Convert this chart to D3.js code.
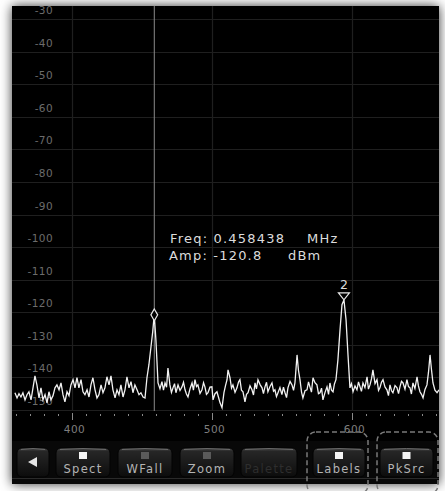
<!DOCTYPE html>
<html>
<head>
<meta charset="utf-8">
<script src="https://cdn.jsdelivr.net/npm/d3@7"></script>
<style>
  html, body { margin: 0; padding: 0; background: #ffffff; }
  svg { display: block; }
</style>
</head>
<body>
<svg id="chart" width="445" height="491"></svg>
<script>
// Spectrum trace: frequency bins (kHz) and amplitude (dBm)
const freqKHz = [
  358.9, 360.4, 361.8, 363.2, 364.6, 366.1, 367.5, 368.9, 370.4, 371.8,
  373.2, 374.6, 376.1, 377.5, 378.9, 380.4, 381.8, 383.2, 384.6, 386.1,
  387.5, 388.9, 390.4, 391.8, 393.2, 394.6, 396.1, 397.5, 398.9, 400.4,
  401.8, 403.2, 404.6, 406.1, 407.5, 408.9, 410.4, 411.8, 413.2, 414.6,
  416.1, 417.5, 418.9, 420.4, 421.8, 423.2, 424.6, 426.1, 427.5, 428.9,
  430.4, 431.8, 433.2, 434.6, 436.1, 437.5, 438.9, 440.4, 441.8, 443.2,
  444.6, 446.1, 447.5, 448.9, 450.4, 451.8, 453.2, 454.6, 456.1, 457.3,
  458.4, 459.6, 461.1, 462.5, 463.9, 465.0, 466.1, 467.2, 468.2, 469.6,
  470.7, 471.8, 472.9, 473.9, 475.4, 476.8, 478.2, 479.3, 480.4, 481.4,
  482.5, 484.0, 485.4, 486.4, 487.5, 488.6, 489.6, 491.1, 492.5, 493.6,
  494.6, 495.7, 496.8, 498.2, 499.6, 500.4, 501.8, 503.2, 504.3, 505.4,
  506.8, 508.2, 509.3, 510.4, 511.1, 512.5, 513.6, 514.6, 516.1, 517.5,
  518.6, 519.6, 520.7, 521.8, 523.2, 524.3, 525.4, 526.8, 528.2, 529.3,
  530.4, 531.4, 532.5, 534.0, 535.4, 536.4, 537.5, 538.6, 539.6, 541.1,
  542.5, 543.6, 544.6, 545.7, 546.8, 548.2, 549.6, 550.7, 551.8, 552.9,
  553.9, 555.4, 556.8, 557.9, 558.9, 560.4, 561.4, 562.5, 563.6, 564.6,
  566.1, 567.5, 568.6, 569.6, 570.7, 571.8, 573.2, 574.6, 575.7, 576.8,
  577.9, 578.9, 580.4, 581.8, 582.9, 583.9, 585.0, 586.1, 587.1, 588.2,
  589.6, 591.1, 592.5, 593.9, 595.4, 596.8, 598.2, 599.3, 600.4, 601.8,
  603.2, 604.3, 605.4, 606.4, 607.5, 608.9, 610.4, 611.4, 612.5, 613.6,
  614.6, 616.1, 617.5, 618.6, 619.6, 620.7, 621.8, 623.2, 624.6, 625.7,
  626.8, 627.9, 628.9, 630.4, 631.8, 632.9, 633.9, 635.0, 636.1, 637.5,
  638.9, 640.0, 641.1, 642.1, 643.2, 644.6, 646.1, 647.1, 648.2, 649.3,
  650.4, 651.8, 653.2, 654.3, 655.4, 656.4, 657.5, 658.9, 660.4, 661.8
];
const ampDbm = [
  -144.7, -146.3, -145.0, -146.0, -144.7, -146.9, -145.3, -144.4, -146.9, -143.2,
  -139.5, -142.3, -146.3, -143.2, -146.9, -145.3, -147.8, -144.4, -146.9, -145.6,
  -143.2, -142.3, -143.8, -141.7, -145.3, -147.5, -144.4, -145.6, -142.3, -140.7,
  -143.2, -140.1, -143.2, -140.7, -144.4, -145.3, -143.8, -146.0, -142.3, -140.1,
  -143.8, -146.3, -145.3, -142.3, -144.7, -143.2, -139.8, -142.3, -139.5, -143.8,
  -146.3, -143.8, -145.3, -142.3, -146.0, -143.8, -139.8, -143.2, -141.3, -144.7,
  -142.3, -143.8, -145.3, -144.7, -146.0, -146.3, -140.1, -136.1, -130.5, -126.0,
  -120.8, -128.5, -141.7, -143.5, -141.3, -143.9, -141.7, -143.0, -137.1, -142.3,
  -144.6, -143.2, -141.9, -144.7, -142.3, -144.0, -142.9, -141.5, -143.8, -145.1,
  -146.0, -143.4, -141.7, -143.9, -140.7, -142.8, -142.3, -144.9, -143.8, -141.6,
  -142.9, -145.2, -144.7, -143.0, -142.9, -146.9, -145.0, -144.4, -146.1, -147.8,
  -149.3, -144.7, -142.5, -140.7, -137.7, -140.1, -143.3, -142.3, -144.6, -143.2,
  -141.4, -140.7, -143.9, -144.4, -147.5, -145.2, -144.7, -142.6, -143.8, -145.4,
  -141.7, -143.5, -140.7, -142.2, -143.2, -145.0, -142.9, -141.5, -144.4, -142.8,
  -141.7, -144.2, -143.8, -145.9, -144.7, -143.1, -145.3, -143.0, -144.7, -146.2,
  -143.2, -141.2, -142.3, -144.0, -141.7, -133.1, -137.8, -140.7, -144.5, -146.3,
  -144.1, -143.8, -141.4, -142.9, -144.5, -140.1, -141.6, -142.3, -145.0, -144.7,
  -143.3, -146.9, -144.6, -142.9, -145.2, -141.7, -143.9, -144.4, -142.0, -140.7,
  -134.6, -125.4, -117.7, -116.2, -122.3, -133.1, -143.2, -141.9, -144.4, -142.6,
  -143.8, -141.4, -142.9, -144.3, -141.7, -143.1, -139.8, -143.6, -142.3, -140.4,
  -137.7, -141.9, -140.7, -144.0, -143.2, -141.5, -140.7, -142.9, -143.8, -145.6,
  -142.3, -144.1, -144.7, -142.5, -143.2, -145.0, -142.9, -141.2, -141.7, -143.6,
  -140.7, -142.8, -143.2, -145.1, -141.7, -143.4, -139.8, -142.6, -144.4, -145.2,
  -146.3, -143.7, -142.3, -138.4, -133.1, -137.5, -141.7, -143.9, -144.7, -143.8
];

// Axis ticks
const ampTicks = [-30, -40, -50, -60, -70, -80, -90, -100, -110, -120, -130, -140, -150];
const freqMajorTicks = [400, 500, 600];
const freqMinorTicks = [360, 370, 380, 390, 410, 420, 430, 440, 450, 460, 470, 480, 490,
                        510, 520, 530, 540, 550, 560, 570, 580, 590, 610, 620, 630, 640, 650, 660];

// Markers
const marker1 = { freqMHz: 0.458438, ampDbm: -120.8 };
const marker2 = { label: "2", freqKHz: 593.9, ampDbm: -116.2 };

// Button bar
const buttonLabels = ["Spect", "WFall", "Zoom", "Palette", "Labels", "PkSrc"];
const buttonState = ["on", "off", "off", "disabled", "on", "on"];

const svg = d3.select("#chart");
const defs = svg.append("defs");

// Panel shadow
const shadow = defs.append("filter").attr("id", "shadow")
  .attr("x", "-10%").attr("y", "-10%").attr("width", "120%").attr("height", "120%");
shadow.append("feDropShadow").attr("dx", 0).attr("dy", 0).attr("stdDeviation", 6)
  .attr("flood-color", "#000").attr("flood-opacity", 0.8);

const btnGrad = defs.append("linearGradient").attr("id", "btnGrad")
  .attr("x1", 0).attr("y1", 0).attr("x2", 0).attr("y2", 1);
btnGrad.append("stop").attr("offset", "0%").attr("stop-color", "#4a4a4a");
btnGrad.append("stop").attr("offset", "12%").attr("stop-color", "#262626");
btnGrad.append("stop").attr("offset", "60%").attr("stop-color", "#181818");
btnGrad.append("stop").attr("offset", "100%").attr("stop-color", "#0c0c0c");

const panel = { left: 12, top: 6, right: 439, bottom: 484 };

svg.append("rect")
  .attr("x", panel.left).attr("y", panel.top)
  .attr("width", panel.right - panel.left).attr("height", panel.bottom - panel.top)
  .attr("fill", "#000").attr("filter", "url(#shadow)");

// Scales
const x = d3.scaleLinear().domain([356.8, 661.8]).range([panel.left, panel.right]);
const y = d3.scaleLinear().domain([-30, -150]).range([19, 410]);

defs.append("clipPath").attr("id", "plotClip")
  .append("rect").attr("x", panel.left).attr("y", panel.top)
  .attr("width", panel.right - panel.left).attr("height", 410 - panel.top + 1);

const plot = svg.append("g").attr("clip-path", "url(#plotClip)");

// Grid
plot.selectAll("line.hgrid").data(ampTicks).join("line")
  .attr("class", "hgrid")
  .attr("x1", panel.left).attr("x2", panel.right)
  .attr("y1", d => Math.round(y(d)) + 0.5).attr("y2", d => Math.round(y(d)) + 0.5)
  .attr("stroke", "#1f1f1f").attr("stroke-width", 1.2);

plot.selectAll("line.vgrid").data(freqMajorTicks).join("line")
  .attr("class", "vgrid")
  .attr("x1", d => Math.round(x(d)) + 0.5).attr("x2", d => Math.round(x(d)) + 0.5)
  .attr("y1", panel.top).attr("y2", 410)
  .attr("stroke", "#1f1f1f").attr("stroke-width", 1.2);

// Amplitude labels, sitting above each grid line
plot.selectAll("text.ylab").data(ampTicks).join("text")
  .attr("class", "ylab")
  .attr("x", 53).attr("y", d => y(d) - 5)
  .attr("text-anchor", "end")
  .attr("font-family", "DejaVu Sans, sans-serif").attr("font-size", 10.5)
  .attr("letter-spacing", 0.4)
  .attr("fill", "#6c6c6c")
  .text(d => d);

// Marker 1 frequency cursor
const m1x = x(marker1.freqMHz * 1000);
plot.append("line")
  .attr("x1", m1x).attr("x2", m1x).attr("y1", panel.top).attr("y2", 411)
  .attr("stroke", "#8a8a8a").attr("stroke-width", 1);

// Trace
const line = d3.line().x((d, i) => x(freqKHz[i])).y(d => y(d));
plot.append("path")
  .datum(ampDbm)
  .attr("d", line)
  .attr("fill", "none").attr("stroke", "#f2f2f2").attr("stroke-width", 1.3)
  .attr("stroke-linejoin", "miter");

// Marker 1 diamond
const m1y = y(marker1.ampDbm);
plot.append("path")
  .attr("d", d3.symbol().type(d3.symbolDiamond).size(40)())
  .attr("transform", `translate(${m1x},${m1y})`)
  .attr("fill", "#000").attr("stroke", "#e8e8e8").attr("stroke-width", 1.2);

// Marker readout
const readout = plot.append("g")
  .attr("font-family", "DejaVu Sans, sans-serif").attr("font-size", 13)
  .attr("letter-spacing", 1.2)
  .attr("fill", "#dcdcdc");
readout.append("text").attr("x", 170).attr("y", 243)
  .text(`Freq: ${marker1.freqMHz.toFixed(6)}`);
readout.append("text").attr("x", 307).attr("y", 243).text("MHz");
readout.append("text").attr("x", 169).attr("y", 260)
  .text(`Amp: ${marker1.ampDbm.toFixed(1)}`);
readout.append("text").attr("x", 288).attr("y", 260).text("dBm");

// Marker 2 (peak) triangle and number
const m2x = x(marker2.freqKHz), m2y = y(marker2.ampDbm);
plot.append("path")
  .attr("d", `M${m2x - 5.5},${m2y - 7}L${m2x + 5.5},${m2y - 7}L${m2x},${m2y}Z`)
  .attr("fill", "#000").attr("stroke", "#e8e8e8").attr("stroke-width", 1.2);
plot.append("text")
  .attr("x", m2x).attr("y", m2y - 11)
  .attr("text-anchor", "middle")
  .attr("font-family", "DejaVu Sans, sans-serif").attr("font-size", 12.5)
  .attr("fill", "#dcdcdc")
  .text(marker2.label);

// Frequency axis ticks
const axisY = 415;
svg.selectAll("rect.minor").data(freqMinorTicks).join("rect")
  .attr("class", "minor")
  .attr("x", d => Math.round(x(d))).attr("y", axisY - 1)
  .attr("width", 1).attr("height", 2)
  .attr("fill", "#8a8a8a");
svg.selectAll("rect.major").data(freqMajorTicks).join("rect")
  .attr("class", "major")
  .attr("x", d => Math.round(x(d))).attr("y", axisY - 2)
  .attr("width", 1).attr("height", 7)
  .attr("fill", "#8a8a8a");
svg.selectAll("text.xlab").data(freqMajorTicks).join("text")
  .attr("class", "xlab")
  .attr("x", d => x(d) + 2).attr("y", 433)
  .attr("text-anchor", "middle")
  .attr("font-family", "DejaVu Sans, sans-serif").attr("font-size", 10.5)
  .attr("letter-spacing", 0.4)
  .attr("fill", "#7e7e7e")
  .text(d => d);

// Button bar
svg.append("rect")
  .attr("x", panel.left).attr("y", 441)
  .attr("width", panel.right - panel.left).attr("height", panel.bottom - 441)
  .attr("fill", "#080808");
svg.append("line")
  .attr("x1", panel.left).attr("x2", panel.right).attr("y1", 478.5).attr("y2", 478.5)
  .attr("stroke", "#2a2a2a").attr("stroke-width", 1);

function drawButton(x0, w) {
  const g = svg.append("g");
  g.append("rect")
    .attr("x", x0).attr("y", 448).attr("width", w).attr("height", 29)
    .attr("rx", 5)
    .attr("fill", "url(#btnGrad)").attr("stroke", "#030303").attr("stroke-width", 1);
  g.append("path")
    .attr("d", `M${x0 + 4},449.5Q${x0 + w / 2},447.5 ${x0 + w - 4},449.5`)
    .attr("fill", "none").attr("stroke", "#6a6a6a").attr("stroke-width", 1);
  return g;
}

// Back button
const back = drawButton(17, 32);
back.append("path")
  .attr("d", "M28,462L37,457L37,467Z")
  .attr("fill", "#e6e6e6");

const btnX = [56, 118, 180, 241, 313, 380];
const btnW = [54, 54, 54, 56, 52, 53];
buttonLabels.forEach((label, i) => {
  const g = drawButton(btnX[i], btnW[i]);
  const cx = btnX[i] + btnW[i] / 2;
  if (buttonState[i] !== "disabled") {
    g.append("rect")
      .attr("x", cx - 4).attr("y", 452).attr("width", 8).attr("height", 7)
      .attr("fill", buttonState[i] === "on" ? "#f4f4f4" : "#5a5a5a");
  }
  g.append("text")
    .attr("x", cx).attr("y", 473)
    .attr("text-anchor", "middle")
    .attr("font-family", "DejaVu Sans, sans-serif").attr("font-size", 11.5)
    .attr("letter-spacing", 1.3)
    .attr("fill", buttonState[i] === "disabled" ? "#2e2e2e" : "#b4b4b4")
    .text(label);
});

// Dashed highlight frames around the enabled overlay buttons
[[307, 61], [377, 61]].forEach(([bx, bw]) => {
  svg.append("rect")
    .attr("x", bx).attr("y", 432).attr("width", bw).attr("height", 62)
    .attr("rx", 9)
    .attr("fill", "none").attr("stroke", "#7a7a7a").attr("stroke-width", 1.5)
    .attr("stroke-dasharray", "5,3");
});
</script>
</body>
</html>
